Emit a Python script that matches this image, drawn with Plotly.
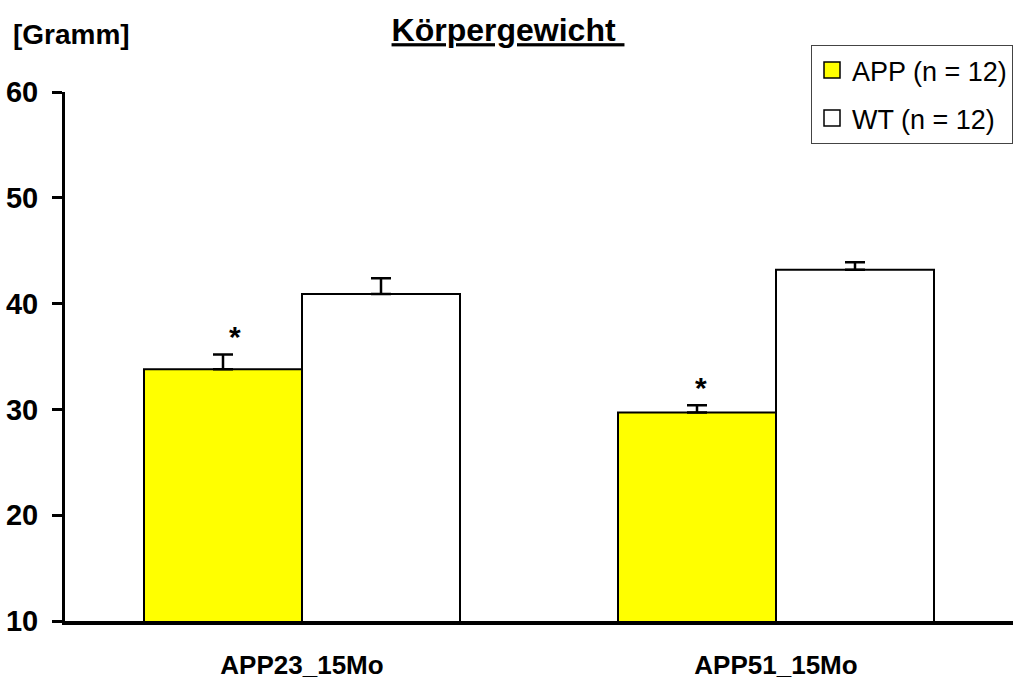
import plotly.graph_objects as go

categories = ["APP23_15Mo", "APP51_15Mo"]
app_values = [33.8, 29.7]
app_errors = [1.4, 0.7]
wt_values = [40.9, 43.2]
wt_errors = [1.5, 0.7]
significant = [True, True]
y_ticks = [10, 20, 30, 40, 50, 60]
app_name = "APP (n = 12)"
wt_name = "WT (n = 12)"

FONT = "Liberation Sans, Arial, sans-serif"

fig = go.Figure()
fig.add_trace(go.Bar(
    x=categories, y=app_values, name=app_name, showlegend=False,
    marker=dict(color="#FFFF00", line=dict(color="black", width=2)),
    error_y=dict(type="data", array=app_errors, arrayminus=[0, 0], symmetric=False,
                 color="black", thickness=2.5, width=10),
))
fig.add_trace(go.Bar(
    x=categories, y=wt_values, name=wt_name, showlegend=False,
    marker=dict(color="white", line=dict(color="black", width=2)),
    error_y=dict(type="data", array=wt_errors, arrayminus=[0, 0], symmetric=False,
                 color="black", thickness=2.5, width=10),
))
# legend entries
for nm, col in [(app_name, "#FFFF00"), (wt_name, "white")]:
    fig.add_trace(go.Scatter(
        x=[None], y=[None], mode="markers", name=nm, legendgroup=nm,
        marker=dict(symbol="square", size=20, color=col, line=dict(color="black", width=1.5)),
    ))

star_xshift = [12, 4]
annotations = []
for i, (v, e, s) in enumerate(zip(app_values, app_errors, significant)):
    if s:
        annotations.append(dict(
            x=i - 1/6, y=v + e, xref="x", yref="y", text="<b>*</b>", showarrow=False,
            yanchor="bottom", yshift=-1, xshift=star_xshift[i],
            font=dict(size=30, color="black", family=FONT),
        ))
annotations.append(dict(
    x=-0.0565, y=1.108, xref="paper", yref="paper", text="<b>[Gramm]</b>", showarrow=False,
    xanchor="left", yanchor="middle", font=dict(size=28, color="black", family=FONT),
))
fig.update_layout(annotations=annotations)

fig.update_layout(
    width=1014, height=681,
    margin=dict(l=65, r=1, t=92, b=60, autoexpand=False),
    paper_bgcolor="white", plot_bgcolor="white",
    barmode="group", bargap=1/3, bargroupgap=0,
    title=dict(text="<b><u>Körpergewicht </u></b>", x=0.501, xanchor="center",
               y=1 - 30/681, yanchor="middle",
               font=dict(size=32, color="black", family=FONT)),
    font=dict(family=FONT, color="black"),
    legend=dict(x=1.0, y=1.0889, xanchor="right", yanchor="top",
                bordercolor="#444", borderwidth=1, bgcolor="white",
                font=dict(size=27, family=FONT, color="black"),
                itemwidth=30, tracegroupgap=10),
    showlegend=True,
)
fig.update_xaxes(
    range=[-0.5, 1.5], showline=True, linecolor="black", linewidth=4,
    ticks="", showgrid=False, zeroline=False, automargin=False,
    tickfont=dict(size=26, family=FONT, color="black", weight="bold"),
    ticklabelstandoff=18,
)
fig.update_yaxes(
    range=[10, 60], tickvals=y_ticks, showline=True, linecolor="black", linewidth=3,
    ticks="outside", ticklen=10, tickwidth=3, tickcolor="black",
    showgrid=False, zeroline=False, automargin=False,
    tickfont=dict(size=29, family=FONT, color="black", weight="bold"),
    ticklabelstandoff=8,
)

fig.write_html("out.html", config={"displayModeBar": False},
               post_script="document.body.style.margin='0';document.body.style.overflow='hidden';")
